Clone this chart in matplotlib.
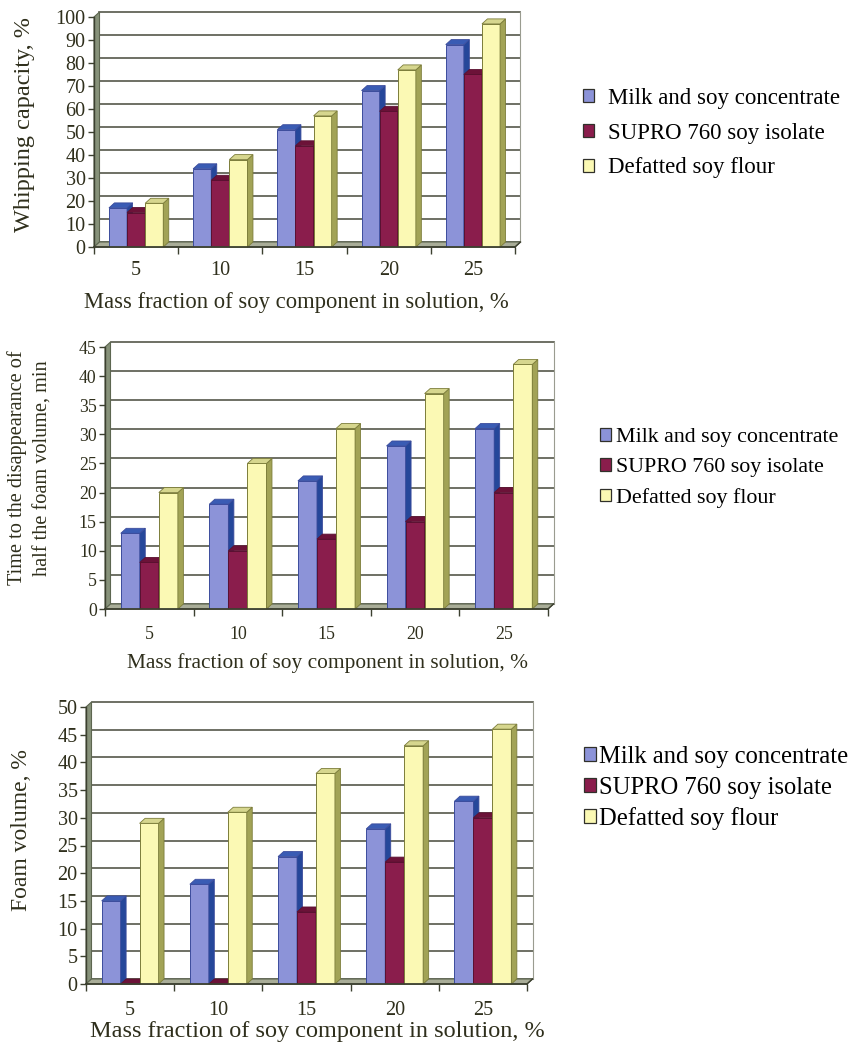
import matplotlib
matplotlib.use("Agg")
import matplotlib.pyplot as plt
from matplotlib.patches import Polygon, Patch
from matplotlib.lines import Line2D

# ---- data -------------------------------------------------------------
categories = ["5", "10", "15", "20", "25"]
series_names = ["Milk and soy concentrate", "SUPRO 760 soy isolate", "Defatted soy flour"]

whip_milk = [17, 34, 51, 68, 88]
whip_supro = [15, 29, 44, 59, 75]
whip_flour = [19, 38, 57, 77, 97]

half_milk = [13, 18, 22, 28, 31]
half_supro = [8, 10, 12, 15, 20]
half_flour = [20, 25, 31, 37, 42]

foam_milk = [15, 18, 23, 28, 33]
foam_supro = [0, 0, 13, 22, 30]
foam_flour = [29, 31, 38, 43, 46]

whip_ticks = list(range(0, 101, 10))
half_ticks = list(range(0, 46, 5))
foam_ticks = list(range(0, 51, 5))

xlabel_text = "Mass fraction of soy component in solution, %"

# ---- style ------------------------------------------------------------
W, H, DPI = 853, 1044, 100
FONT = "Liberation Serif"
TXT = "#2f2f1c"

# front, side, top, edge colours per series
STYLES = [
    ("#8c93d8", "#25479a", "#3a5cb4", "#3b4c9c"),
    ("#8a1d4c", "#520c2c", "#6c1238", "#5a1030"),
    ("#fbf9b4", "#a2a356", "#d6d68e", "#7c7d3a"),
]
GRID = "#55574a"
WALL = "#87927a"
FLOOR = "#a9ad98"

DEPTH_PX = (5.5, 5.0)
BAR_W = 0.215

fig = plt.figure(figsize=(W / DPI, H / DPI), dpi=DPI)
fig.patch.set_facecolor("white")


def fx(px):
    return px / W


def fy(py):
    return 1 - py / H


def make_axes(left, right, bottom, top):
    return fig.add_axes([fx(left), fy(bottom), (right - left) / W, (bottom - top) / H])


def draw_chart(ax, series, ticks, ylabel, layout):
    n = len(categories)
    ymax = ticks[-1]
    ax.set_xlim(-0.5, n - 0.5)
    ax.set_ylim(0, ymax)
    ax.set_facecolor("none")
    for s in ax.spines.values():
        s.set_visible(False)

    # depth offset expressed in data units through the axes transform
    p0 = ax.transData.transform((0, 0))
    q = ax.transData.inverted().transform((p0[0] + DEPTH_PX[0], p0[1] + DEPTH_PX[1]))
    ddx, ddy = q[0], q[1]

    x0, x1 = -0.5, n - 0.5
    # left wall and floor
    ax.add_patch(Polygon([(x0, 0), (x0 + ddx, ddy), (x0 + ddx, ymax + ddy), (x0, ymax)],
                         closed=True, facecolor=WALL, edgecolor="#5d6650", lw=0.8,
                         clip_on=False, zorder=1))
    ax.add_patch(Polygon([(x0, 0), (x1, 0), (x1 + ddx, ddy), (x0 + ddx, ddy)],
                         closed=True, facecolor=FLOOR, edgecolor="#5d6650", lw=0.8,
                         clip_on=False, zorder=1))
    # back wall gridlines
    for v in ticks:
        ax.add_line(Line2D([x0 + ddx, x1 + ddx], [v + ddy, v + ddy], color=GRID, lw=1.2,
                           clip_on=False, zorder=0.5))
    ax.add_line(Line2D([x1 + ddx, x1 + ddx], [ddy, ymax + ddy], color="#9a9c90", lw=0.8,
                       clip_on=False, zorder=0.5))

    # 3-D columns, drawn left to right so nearer faces cover hidden ones
    offsets = [-BAR_W, 0.0, BAR_W]
    z = 2
    for i in range(n):
        for k, vals in enumerate(series):
            front, side, topc, edge = STYLES[k]
            xc = i + offsets[k]
            h = vals[i]
            bars = ax.bar([xc], [h], width=BAR_W, color=front, edgecolor=edge,
                          linewidth=0.7, zorder=z)
            r = bars[0]
            bx0, bx1 = r.get_x(), r.get_x() + r.get_width()
            ax.add_patch(Polygon([(bx1, 0), (bx1 + ddx, ddy), (bx1 + ddx, h + ddy), (bx1, h)],
                                 closed=True, facecolor=side, edgecolor=edge, lw=0.6,
                                 zorder=z + 0.1, clip_on=False))
            ax.add_patch(Polygon([(bx0, h), (bx1, h), (bx1 + ddx, h + ddy), (bx0 + ddx, h + ddy)],
                                 closed=True, facecolor=topc, edgecolor=edge, lw=0.6,
                                 zorder=z + 0.2, clip_on=False))
            z += 1

    # front axes lines
    ax.add_line(Line2D([x0, x1], [0, 0], color="#3c4030", lw=1.3, clip_on=False, zorder=z + 1))
    ax.add_line(Line2D([x1, x1 + ddx], [0, ddy], color="#3c4030", lw=1.0, clip_on=False, zorder=z + 1))
    ax.add_line(Line2D([x0, x0], [0, ymax], color="#3c4030", lw=1.0, clip_on=False, zorder=z + 1))

    ax.set_yticks(ticks)
    ax.set_yticklabels([str(t) for t in ticks], fontfamily=FONT, fontsize=layout["tick_fs"], color=TXT)
    ax.tick_params(axis="y", length=4, width=1.0, color="#3c4030", pad=2)

    ax.set_xticks(range(n))
    ax.set_xticklabels(categories, fontfamily=FONT, fontsize=layout["tick_fs"], color=TXT)
    ax.set_xticks([j - 0.5 for j in range(n + 1)], minor=True)
    ax.tick_params(axis="x", which="major", length=0, pad=layout["xpad"])
    ax.tick_params(axis="x", which="minor", length=5, width=1.0, color="#3c4030")

    # axis titles placed in figure pixels
    xl_x, xl_y = layout["xlabel_at"]
    fig.text(fx(xl_x), fy(xl_y), xlabel_text, ha="center", va="baseline",
             fontfamily=FONT, fontsize=layout["label_fs"], color=TXT)
    yl_x, yl_y = layout["ylabel_at"]
    fig.text(fx(yl_x), fy(yl_y), ylabel, ha="center", va="center", rotation=90,
             fontfamily=FONT, fontsize=layout["ylabel_fs"], color=TXT,
             linespacing=layout.get("yls", 1.2), multialignment="center")

    handles = [Patch(facecolor=STYLES[k][0], edgecolor="#30302a", linewidth=0.9) for k in range(3)]
    lx, ly = layout["legend_at"]
    fig.legend(handles, series_names, loc="center left", bbox_to_anchor=(fx(lx), fy(ly)),
               frameon=False, prop={"family": FONT, "size": layout["legend_fs"]},
               handlelength=0.5, handleheight=0.5, handletextpad=layout["htp"],
               labelspacing=layout["lsp"], borderpad=0, borderaxespad=0)


layouts = [
    dict(box=(94, 515, 247, 17), tick_fs=14.5, label_fs=16.3, ylabel_fs=17.5, xpad=10,
         xlabel_at=(296, 308), ylabel_at=(25, 125), legend_at=(583, 133), legend_fs=16.5,
         htp=0.6, lsp=0.6),
    dict(box=(105, 548, 609, 347), tick_fs=12.8, label_fs=15.4, ylabel_fs=14.6, xpad=12,
         xlabel_at=(328, 668), ylabel_at=(30, 468), legend_at=(600, 468), legend_fs=15.8,
         htp=0.25, lsp=0.5, yls=1.45),
    dict(box=(86, 527, 984, 707), tick_fs=14.5, label_fs=17.5, ylabel_fs=17, xpad=12,
         xlabel_at=(317, 1037), ylabel_at=(22, 830), legend_at=(584, 788), legend_fs=17.7,
         htp=0.1, lsp=0.35),
]

charts = [
    ([whip_milk, whip_supro, whip_flour], whip_ticks, "Whipping capacity, %"),
    ([half_milk, half_supro, half_flour], half_ticks,
     "Time to the disappearance of\nhalf the foam volume, min"),
    ([foam_milk, foam_supro, foam_flour], foam_ticks, "Foam volume, %"),
]

for (series, ticks, ylabel), lay in zip(charts, layouts):
    L, R, B, T = lay["box"]
    ax = make_axes(L, R, B, T)
    draw_chart(ax, series, ticks, ylabel, lay)

fig.savefig("out.png", dpi=DPI, facecolor="white")
